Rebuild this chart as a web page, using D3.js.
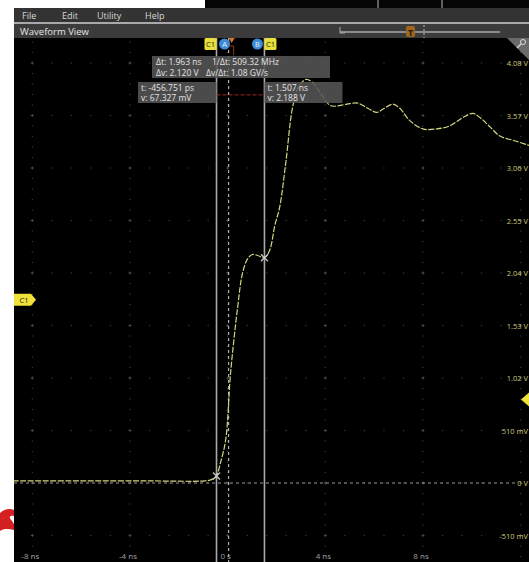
<!DOCTYPE html>
<html>
<head>
<meta charset="utf-8">
<script src="https://cdn.jsdelivr.net/npm/d3@7"></script>
<style>
  html, body { margin: 0; padding: 0; background: #fff; }
  svg { display: block; font-family: "Open Sans", "Noto Sans", sans-serif; }
</style>
</head>
<body>
<svg id="scope" width="529" height="562"></svg>
<script>
// Channel 1 acquisition (time in ns, amplitude in V)
const timeNs = [-8.8, -6.0, -3.2, -0.94, -0.70, -0.53, -0.456751, -0.29, -0.08, 0.12, 0.41, 0.61, 0.82, 1.02, 1.23, 1.507,
  1.72, 1.93, 2.13, 2.38, 2.66, 2.91, 3.20, 3.48, 3.85, 4.18, 4.39, 4.88, 5.33, 5.74, 6.11, 6.35, 6.76, 7.05,
  7.46, 7.99, 8.57, 9.10, 9.63, 10.04, 10.33, 10.74, 11.15, 11.68, 12.34];
const voltsV = [0.02, 0.02, 0.02, 0.02, 0.03, 0.05, 0.067327, 0.20, 0.42, 1.07, 1.71, 2.04, 2.18, 2.22, 2.21, 2.188,
  2.26, 2.50, 2.68, 3.11, 3.65, 3.85, 3.92, 3.89, 3.77, 3.67, 3.66, 3.68, 3.69, 3.64, 3.60, 3.63, 3.68, 3.64,
  3.52, 3.44, 3.44, 3.47, 3.55, 3.59, 3.55, 3.46, 3.37, 3.33, 3.28];

// Axis graduations
const voltTicks = [-0.51, 0, 0.51, 1.02, 1.53, 2.04, 2.55, 3.06, 3.57, 4.08];
const voltTickLabels = ["-510 mV", "0 V", "510 mV", "1.02 V", "1.53 V", "2.04 V", "2.55 V", "3.06 V", "3.57 V", "4.08 V"];
const timeTicks = [-8, -4, 0, 4, 8];
const timeTickLabels = ["-8 ns", "-4 ns", "0 s", "4 ns", "8 ns"];
const timeDivisions = [-8, -4, 0, 4, 8, 12];

// Cursor readouts
const cursorA = { t: -0.456751, v: 0.067327 };
const cursorB = { t: 1.507, v: 2.188 };
const cursorALines = ["t: -456.751 ps", "v: 67.327 mV"];
const cursorBLines = ["t: 1.507 ns", "v: 2.188 V"];
const deltaLines = [["Δt: 1.963 ns", "1/Δt: 509.32 MHz"], ["Δv: 2.120 V", "Δv/Δt: 1.08 GV/s"]];
const refLevel = 3.77;
const triggerLevel = 0.81;
const offsetLevel = 1.78;

const menuItems = ["File", "Edit", "Utility", "Help"];

const svg = d3.select("#scope");
const W = 529, H = 562;
const plot = { left: 14, top: 38, right: 529, bottom: 562 };

const x = d3.scaleLinear().domain([-8, 12]).range([32.3, 32.3 + 20 * 24.42]);
const y = d3.scaleLinear().domain([0, 4.08]).range([483, 63]);

// window chrome
svg.append("rect").attr("x", 0).attr("y", 0).attr("width", W).attr("height", H).attr("fill", "#ffffff");
svg.append("rect").attr("x", 205).attr("y", 0).attr("width", W - 205).attr("height", 8).attr("fill", "#050505");
[378, 442].forEach(px => svg.append("line").attr("x1", px).attr("x2", px).attr("y1", 0).attr("y2", 8)
  .attr("stroke", "#bbb").attr("stroke-width", 1));
svg.append("rect").attr("x", plot.left).attr("y", 8).attr("width", W - plot.left).attr("height", 14).attr("fill", "#333333");
svg.append("rect").attr("x", plot.left).attr("y", 22).attr("width", W - plot.left).attr("height", 2).attr("fill", "#a9a9a9");
svg.append("rect").attr("x", plot.left).attr("y", 24).attr("width", W - plot.left).attr("height", 14).attr("fill", "#3b3b3b");

const menuX = [22, 62, 97, 145];
menuItems.forEach((m, i) => svg.append("text").attr("x", menuX[i]).attr("y", 18.5).text(m)
  .attr("fill", "#d8d8d8").attr("font-size", 9));
svg.append("text").attr("x", 20).attr("y", 34.5).text("Waveform View").attr("fill", "#e6e6e6").attr("font-size", 9.5);

// record overview slider
svg.append("line").attr("x1", 340).attr("x2", 500).attr("y1", 32).attr("y2", 32).attr("stroke", "#a8a8a8").attr("stroke-width", 1.5);
svg.append("path").attr("d", "M340,27 V33 H345").attr("fill", "none").attr("stroke", "#a8a8a8").attr("stroke-width", 1);
svg.append("line").attr("x1", 424).attr("x2", 424).attr("y1", 25).attr("y2", 38).attr("stroke", "#bbb").attr("stroke-dasharray", "2,2");
svg.append("rect").attr("x", 406).attr("y", 26).attr("width", 9).attr("height", 11).attr("rx", 2).attr("fill", "#a0661e");
svg.append("text").attr("x", 410.5).attr("y", 35.5).attr("text-anchor", "middle").text("T")
  .attr("fill", "#1a1a1a").attr("font-size", 9).attr("font-weight", "bold");

// graticule area
svg.append("rect").attr("x", plot.left).attr("y", plot.top).attr("width", W - plot.left).attr("height", H - plot.top).attr("fill", "#000");
svg.append("clipPath").attr("id", "plotClip").append("rect")
  .attr("x", plot.left).attr("y", plot.top).attr("width", W - plot.left).attr("height", H - plot.top);
const g = svg.append("g").attr("clip-path", "url(#plotClip)");

const vStep = 0.102, tStep = 0.8;
const grid = g.append("g");
// dotted division lines along time
timeDivisions.forEach(t => {
  for (let v = -1.02; v <= 4.7; v += vStep) {
    grid.append("rect").attr("x", x(t) - 0.6).attr("y", y(v) - 0.6).attr("width", 1.2).attr("height", 1.2).attr("fill", "#3a3a3a");
  }
});
voltTicks.forEach(v => {
  for (let t = -9.6; t <= 12.8; t += tStep) {
    grid.append("rect").attr("x", x(t) - 0.6).attr("y", y(v) - 0.6).attr("width", 1.2).attr("height", 1.2).attr("fill", "#3a3a3a");
  }
  timeDivisions.forEach(t => {
    grid.append("path").attr("d", `M${x(t) - 1.5},${y(v)} h3 M${x(t)},${y(v) - 1.5} v3`).attr("stroke", "#474747").attr("stroke-width", 1);
  });
});

// zero-volt reference and trigger time
g.append("line").attr("x1", plot.left).attr("x2", 515).attr("y1", y(0)).attr("y2", y(0))
  .attr("stroke", "#9a9a9a").attr("stroke-width", 1).attr("stroke-dasharray", "3,3");
g.append("line").attr("x1", x(0) + 1).attr("x2", x(0) + 1).attr("y1", plot.top).attr("y2", H)
  .attr("stroke", "#cfcfcf").attr("stroke-width", 1).attr("stroke-dasharray", "3,3");

// cursor bars
[cursorA, cursorB].forEach(c => {
  g.append("line").attr("x1", x(c.t)).attr("x2", x(c.t)).attr("y1", plot.top).attr("y2", H)
    .attr("stroke", "#a9a9a9").attr("stroke-width", 1.6);
});
g.append("line").attr("x1", x(cursorA.t)).attr("x2", x(cursorB.t)).attr("y1", y(refLevel)).attr("y2", y(refLevel))
  .attr("stroke", "#a52222").attr("stroke-width", 1).attr("stroke-dasharray", "4,2");

// channel 1 trace
const pts = timeNs.map((t, i) => [t, voltsV[i]]);
const line = d3.line().x(d => x(d[0])).y(d => y(d[1])).curve(d3.curveCatmullRom.alpha(0.5));
g.append("path").datum(pts).attr("d", line).attr("fill", "none")
  .attr("stroke", "#d6d682").attr("stroke-width", 1.2).attr("stroke-dasharray", "6,1.5");

// cursor crossings
[cursorA, cursorB].forEach(c => {
  const cx = x(c.t), cy = y(c.v);
  g.append("path").attr("d", `M${cx - 3.5},${cy - 3.5} L${cx + 3.5},${cy + 3.5} M${cx - 3.5},${cy + 3.5} L${cx + 3.5},${cy - 3.5}`)
    .attr("stroke", "#c8c8c8").attr("stroke-width", 1.3);
});

// readout boxes
function readout(x0, y0, w, h, rows) {
  g.append("rect").attr("x", x0).attr("y", y0).attr("width", w).attr("height", h).attr("fill", "#555555").attr("opacity", 0.88);
  rows.forEach(r => g.append("text").attr("x", r[0]).attr("y", r[1]).text(r[2]).attr("fill", "#e4e4e4").attr("font-size", 8.5));
}
readout(152, 56, 178, 22, [[156, 65, deltaLines[0][0]], [212, 65, deltaLines[0][1]], [156, 75.5, deltaLines[1][0]], [206, 75.5, deltaLines[1][1]]]);
readout(138, 82, x(cursorA.t) - 138, 21, [[141, 91, cursorALines[0]], [141, 100.5, cursorALines[1]]]);
readout(x(cursorB.t), 82, 78, 21, [[x(cursorB.t) + 3, 91, cursorBLines[0]], [x(cursorB.t) + 3, 100.5, cursorBLines[1]]]);

// cursor handles
function chBadge(x0, y0) {
  g.append("rect").attr("x", x0).attr("y", y0).attr("width", 12).attr("height", 12).attr("rx", 1.5).attr("fill", "#e8df3c");
  g.append("text").attr("x", x0 + 6).attr("y", y0 + 9).attr("text-anchor", "middle").text("C1").attr("fill", "#222").attr("font-size", 7.5);
}
function curBadge(cx, label) {
  g.append("circle").attr("cx", cx).attr("cy", 44).attr("r", 5.5).attr("fill", "#3d8ad6");
  g.append("text").attr("x", cx).attr("y", 47).attr("text-anchor", "middle").text(label).attr("fill", "#f0f0f0").attr("font-size", 7.5);
}
chBadge(x(cursorA.t) - 12, 38);
curBadge(x(cursorA.t) + 8, "A");
g.append("path").attr("d", `M${x(0) + 1},38 h6 l-3,5 z`).attr("fill", "#d4762a");
g.append("path").attr("d", `M${x(0) + 1},46 h5 v9`).attr("fill", "none").attr("stroke", "#b04a20").attr("stroke-width", 0.8);
curBadge(x(cursorB.t) - 7, "B");
chBadge(x(cursorB.t), 38);

// zoom corner
g.append("path").attr("d", "M507,38 H529 V60 Z").attr("fill", "#6a6a6a");
g.append("circle").attr("cx", 523).attr("cy", 42).attr("r", 2.5).attr("fill", "none").attr("stroke", "#ddd").attr("stroke-width", 1);
g.append("line").attr("x1", 521).attr("y1", 44).attr("x2", 517).attr("y2", 48).attr("stroke", "#ddd").attr("stroke-width", 1.2);

// vertical scale labels
voltTicks.forEach((v, i) => {
  g.append("text").attr("x", 528).attr("y", y(v) + 3).attr("text-anchor", "end").text(voltTickLabels[i])
    .attr("fill", "#cfc97a").attr("font-size", 7.5);
});
// horizontal scale labels
timeTicks.forEach((t, i) => {
  g.append("text").attr("x", x(t) - 2).attr("y", 559).attr("text-anchor", "middle").text(timeTickLabels[i])
    .attr("fill", "#a0a0a0").attr("font-size", 8);
});

// channel offset marker
const oy = y(offsetLevel);
g.append("path").attr("d", `M14,${oy - 6} H31 L36,${oy} L31,${oy + 6} H14 Z`).attr("fill", "#efe33a");
g.append("text").attr("x", 24).attr("y", oy + 3).attr("text-anchor", "middle").text("C1").attr("fill", "#222").attr("font-size", 7.5);

// trigger level marker
const ty = y(triggerLevel);
g.append("path").attr("d", `M521,${ty} L529,${ty - 7} L529,${ty + 7} Z`).attr("fill", "#efe33a");

// annotation scribble in the margin
svg.append("path").attr("d", "M0,513 C4,509 10,508 14,510 L14,516 C10,515 8,517 12,521 L14,524 L14,530 C9,529 4,528 0,531 Z")
  .attr("fill", "#d42020");
</script>
</body>
</html>
